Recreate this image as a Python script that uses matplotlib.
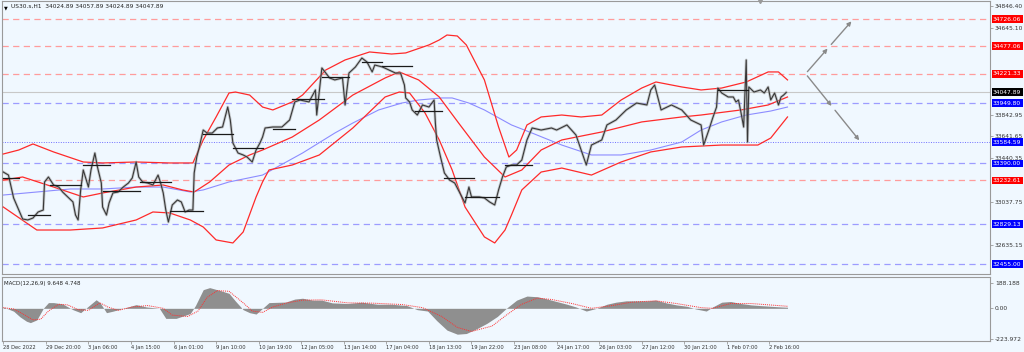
import matplotlib
matplotlib.use("Agg")
import matplotlib.pyplot as plt
import matplotlib.transforms as mtransforms

# ---------------- data ----------------
price_bar = [0, 4, 8, 12, 15, 19, 23, 27, 31, 32, 35, 39, 43, 46, 50, 54, 56, 58, 60, 62, 66, 68, 71, 73, 76, 77,
             80, 82, 85, 89, 93, 97, 100, 103, 105, 108, 112, 116, 120, 122, 124, 126, 128, 131, 135, 138, 141,
             144, 147, 148, 150, 152, 155, 158, 162, 166, 170, 174, 176, 178, 182, 186, 189, 193, 196, 199, 201,
             203, 209, 216, 222, 226, 230, 237, 242, 243, 246, 247, 253, 257, 263, 265, 268, 273, 278, 282, 286,
             288, 294, 299, 304, 308, 311, 312, 315, 317, 321, 325, 330, 334, 335, 336, 339, 342, 346, 350, 354,
             358, 361, 363, 369, 373, 377, 381, 384, 387, 390, 394, 398, 402, 406, 410, 417, 425, 429, 437, 444,
             448, 452, 456, 464, 468, 475, 483, 491, 499, 502, 505, 510, 518, 526, 533, 541, 543, 547, 550, 553,
             554, 557, 562, 566, 568, 570, 572, 574, 576, 577, 578, 582, 587, 590, 593, 595, 598, 601, 603, 605, 607]
price_close = [33311, 33283, 33071, 32959, 32876, 32867, 32885, 32941, 32959, 33219, 33265, 33191, 33172, 33126,
               33080, 33034, 32913, 32867, 33145, 33330, 33172, 33330, 33487, 33358, 33209, 32987, 32913, 33024,
               33117, 33126, 33172, 33209, 33256, 33404, 33265, 33219, 33209, 33191, 33283, 33209, 33117, 32959,
               32848, 33006, 33052, 33034, 32941, 32959, 32959, 33302, 33450, 33543, 33700, 33672, 33672, 33719,
               33728, 33913, 33793, 33580, 33487, 33469, 33450, 33404, 33515, 33580, 33635, 33719, 33728, 33728,
               33793, 33960, 33978, 33960, 34071, 33839, 34164, 34275, 34182, 34164, 34182, 33932, 34228, 34284,
               34367, 34330, 34238, 34302, 34284, 34256, 34228, 34228, 34117, 33997, 33960, 33886, 33839, 33932,
               33913, 33978, 33765, 33608, 33450, 33302, 33237, 33209, 33117, 33024, 33172, 33080, 33080, 33071,
               33034, 33006, 33145, 33265, 33358, 33376, 33376, 33422, 33608, 33719, 33700, 33719, 33700, 33747,
               33654, 33515, 33376, 33561, 33608, 33747, 33793, 33886, 33950, 33932, 34071, 34117, 33886, 33932,
               33886, 33793, 33747, 33561, 33700, 33811, 33913, 34089, 34043, 34006, 34006, 33960, 33978, 33858,
               33728, 34349, 33589, 34099, 34052, 34071, 34043, 34099, 33978, 34043, 33932, 34006, 34024, 34048]

seg_start = [0, 19, 36, 62, 77, 106, 129, 155, 178, 209, 224, 247, 278, 294, 319, 342, 358, 389, 554]
seg_end = [12, 36, 60, 83, 106, 130, 155, 178, 201, 226, 249, 268, 294, 317, 340, 365, 384, 410, 577]
seg_price = [33256, 32913, 33191, 33376, 33135, 33219, 32950, 33663, 33534, 33710, 33987, 34191, 34330, 34293,
             33876, 33256, 33080, 33376, 34071]

upper_bar = [0, 12, 23, 39, 62, 77, 103, 129, 147, 155, 165, 175, 180, 191, 201, 209, 224, 232, 250, 265, 284,
             301, 312, 330, 338, 344, 352, 359, 373, 384, 392, 398, 406, 417, 433, 448, 464, 479, 495, 506, 526,
             541, 557, 576, 593, 601, 608]
upper_val = [33478, 33515, 33571, 33497, 33404, 33395, 33404, 33395, 33395, 33608, 33821, 34043, 34052, 34024,
             33913, 33886, 33960, 34024, 34256, 34349, 34423, 34404, 34414, 34488, 34534, 34580, 34571, 34488,
             34164, 33728, 33450, 33515, 33747, 33821, 33839, 33821, 33839, 33978, 34089, 34145, 34099, 34071,
             34089, 34145, 34238, 34238, 34164]
mid_bar = [0, 15, 39, 62, 77, 103, 124, 139, 148, 160, 175, 191, 201, 224, 245, 271, 296, 307, 322, 338, 353,
           373, 389, 402, 417, 433, 464, 495, 526, 541, 572, 593, 608]
mid_val = [33237, 33265, 33172, 33080, 33117, 33172, 33191, 33145, 33126, 33219, 33376, 33469, 33515, 33635,
           33793, 34024, 34182, 34238, 34164, 34006, 33765, 33450, 33265, 33330, 33515, 33608, 33682, 33775,
           33821, 33839, 33886, 33932, 34006]
lower_bar = [0, 26, 52, 77, 103, 116, 129, 145, 155, 165, 178, 186, 196, 201, 206, 224, 245, 271, 296, 307, 315,
             327, 338, 348, 358, 373, 381, 389, 394, 402, 417, 433, 456, 479, 502, 526, 557, 585, 595, 608]
lower_val = [32987, 32774, 32774, 32793, 32867, 32941, 32932, 32867, 32802, 32682, 32654, 32756, 33080, 33219,
             33330, 33376, 33469, 33719, 34006, 34052, 34043, 33858, 33608, 33330, 32987, 32710, 32654, 32774,
             32913, 33145, 33311, 33348, 33283, 33404, 33497, 33543, 33561, 33561, 33626, 33821]
ma_bar = [0, 26, 52, 77, 103, 124, 145, 155, 175, 201, 232, 257, 271, 291, 309, 322, 340, 348, 361, 373, 394,
          410, 433, 456, 479, 502, 526, 541, 557, 576, 595, 608]
ma_val = [33098, 33126, 33154, 33154, 33172, 33172, 33126, 33145, 33219, 33283, 33487, 33672, 33765, 33886,
          33950, 33978, 33997, 33997, 33950, 33886, 33747, 33672, 33561, 33469, 33469, 33515, 33589, 33700,
          33775, 33839, 33876, 33913]

red_levels = [34726.06, 34477.06, 34221.33, 33232.61]
blue_dash_levels = [33949.80, 33390.00, 32829.13, 32455.00]
blue_dot_levels = [33584.59]
current_price = 34047.89
price_ticks = [34846.40, 34645.10, 33842.95, 33641.65, 33440.35, 33037.75, 32635.15]

macd_bar = [0, 8, 13, 18, 21, 26, 31, 35, 39, 46, 54, 60, 64, 72, 75, 80, 85, 93, 103, 111, 121, 126, 134, 145,
            149, 155, 160, 168, 175, 180, 186, 191, 196, 201, 206, 219, 226, 232, 240, 247, 255, 267, 278, 290,
            301, 313, 321, 329, 336, 344, 352, 359, 367, 375, 383, 390, 398, 406, 414, 421, 429, 437, 444, 452,
            460, 468, 475, 483, 491, 499, 506, 514, 522, 530, 537, 545, 550, 557, 564, 572, 580, 587, 595, 603, 608]
macd_hist = [10, -21, -63, -95, -105, -85, 0, 42, 42, 32, -10, -32, 0, 63, 42, -32, -21, 0, 27, 10, 0, -74, -74,
             -38, 21, 137, 152, 131, 110, 53, -10, -32, -42, 0, 42, 46, 68, 74, 60, 60, 40, 35, 45, 30, 30, 20,
             -10, -20, -90, -160, -190, -185, -150, -110, -60, 0, 60, 90, 85, 70, 50, 30, 10, -20, 0, 30, 45, 55,
             55, 55, 60, 40, 25, 15, -5, -20, 10, 45, 50, 35, 25, 20, 15, 10, 8]
signal_bar = [0, 8, 15, 23, 29, 35, 43, 50, 58, 66, 75, 81, 89, 100, 112, 124, 131, 143, 151, 158, 166, 175, 186,
              193, 201, 209, 220, 232, 247, 267, 286, 309, 325, 340, 352, 363, 379, 390, 402, 414, 425, 441, 456,
              472, 487, 506, 522, 541, 550, 564, 580, 608]
signal_val = [5, -5, -40, -85, -80, -20, 30, 25, -10, -15, 40, 10, -15, 10, 20, 0, -50, -60, -20, 80, 130, 125,
              40, -20, -30, 10, 40, 60, 62, 40, 38, 28, 5, -60, -140, -170, -130, -50, 30, 75, 65, 35, 0, 20, 45,
              55, 35, 5, 0, 35, 35, 15]
macd_ticks = [188.188, 0.0, -223.972]
macd_tick_labels = ["188.188", "0.00", "-223.972"]

x_tick_bars = [0, 33, 66, 99, 132, 165, 198, 231, 264, 297, 330, 363, 396, 429, 462, 495, 528, 561, 594]
x_tick_labels = ["28 Dec 2022", "29 Dec 20:00", "3 Jan 06:00", "4 Jan 15:00", "6 Jan 01:00", "9 Jan 10:00",
                 "10 Jan 19:00", "12 Jan 05:00", "13 Jan 14:00", "17 Jan 04:00", "18 Jan 13:00", "19 Jan 22:00",
                 "23 Jan 08:00", "24 Jan 17:00", "26 Jan 03:00", "27 Jan 12:00", "30 Jan 21:00", "1 Feb 07:00",
                 "2 Feb 16:00"]

arrow_start = (622, 34221.33)
arrow_up_end = (659, 34726.06)
arrow_down_end = (665, 33584.59)

header = "US30.s,H1  34024.89 34057.89 34024.89 34047.89"
macd_title = "MACD(12,26,9) 9.648 4.748"

# ---------------- drawing ----------------
BG = "#f0f8ff"
W, H = 1024, 352
fig = plt.figure(figsize=(W / 100, H / 100), dpi=100, facecolor=BG)
ax = fig.add_axes([2 / W, 1 - 274 / H, 988 / W, 273 / H], facecolor=BG)
ax2 = fig.add_axes([2 / W, 1 - 341 / H, 988 / W, 64 / H], facecolor=BG, sharex=ax)

for a in (ax, ax2):
    for s in a.spines.values():
        s.set_color("#9a9a9a")
        s.set_linewidth(0.8)

ax.set_xlim(-1, 765)
ax.set_ylim(32366.6, 34895.0)

# level lines
for lv in red_levels:
    ax.axhline(lv, color="#ff9c9c", lw=0.9, ls=(0, (5, 3.5)), zorder=1)
for lv in blue_dash_levels:
    ax.axhline(lv, color="#9c9cff", lw=0.9, ls=(0, (5, 3.5)), zorder=1)
for lv in blue_dot_levels:
    ax.axhline(lv, color="#7070ff", lw=0.7, ls=(0, (1, 1.5)), zorder=1)
ax.axhline(current_price, color="#c8c8c8", lw=0.8, zorder=1)

# indicators
ax.plot(ma_bar, ma_val, color="#8c8cff", lw=0.8, zorder=2)
ax.plot(upper_bar, upper_val, color="#ff2a2a", lw=0.9, zorder=3)
ax.plot(mid_bar, mid_val, color="#ff2a2a", lw=0.9, zorder=3)
ax.plot(lower_bar, lower_val, color="#ff2a2a", lw=0.9, zorder=3)

# price
ax.plot(price_bar, price_close, color="#a0a0a0", lw=2.0, alpha=0.55, zorder=4)
ax.plot(price_bar, price_close, color="#383838", lw=0.8, zorder=5)
for s0, s1, p in zip(seg_start, seg_end, seg_price):
    ax.plot([s0, s1], [p, p], color="#1a1a1a", lw=0.9, zorder=5)

# arrows
akw = dict(arrowstyle="-|>", color="#8a8a8a", lw=1.0, mutation_scale=6)
for end in (arrow_up_end, arrow_down_end):
    mid = ((arrow_start[0] + end[0]) / 2, (arrow_start[1] + end[1]) / 2)
    ax.annotate("", xy=mid, xytext=arrow_start, arrowprops=akw, zorder=6)
    ax.annotate("", xy=end, xytext=mid, arrowprops=akw, zorder=6)

# right price axis
ax.yaxis.tick_right()
ax.set_yticks(price_ticks)
ax.set_yticklabels([f"{v:.2f}" for v in price_ticks])
ax.tick_params(axis="y", length=2, width=0.6, colors="#9a9a9a", labelcolor="#333333", labelsize=4.3, pad=1.5)
ax.tick_params(axis="x", bottom=False, labelbottom=False)

trans = mtransforms.blended_transform_factory(ax.transAxes, ax.transData)
def tag(val, fc):
    ax.text(1.0 + 3 / 988, val, f"{val:.2f}", transform=trans, fontsize=4.3, color="white",
            va="center", ha="left", clip_on=False, zorder=10,
            bbox=dict(boxstyle="square,pad=0.25", fc=fc, ec="none"))
for lv in red_levels:
    tag(lv, "#ff0000")
for lv in blue_dash_levels + blue_dot_levels:
    tag(lv, "#0000ff")
tag(current_price, "#000000")

# header
ax.text(2 / 988, 0.985, "\u25bc", transform=ax.transAxes, fontsize=3.5, color="black", va="top", ha="left")
ax.text(9 / 988, 0.99, header, transform=ax.transAxes, fontsize=4.2, color="#222222", va="top", ha="left")
ax.plot([587], [34895.0], marker="v", ms=3, color="#9a9a9a", clip_on=False, zorder=7)

# MACD panel
ax2.set_ylim(-240, 230)
ax2.fill_between(macd_bar, 0, macd_hist, color="#8f8f8f", lw=0, zorder=2)
ax2.plot(signal_bar, signal_val, color="#ff3030", lw=0.7, ls=(0, (1, 1)), zorder=3)
ax2.yaxis.tick_right()
ax2.set_yticks(macd_ticks)
ax2.set_yticklabels(macd_tick_labels)
ax2.tick_params(axis="y", length=2, width=0.6, colors="#9a9a9a", labelcolor="#333333", labelsize=4.3, pad=1.5)
ax2.text(2 / 988, 0.93, macd_title, transform=ax2.transAxes, fontsize=4.0, color="#222222", va="top", ha="left")

ax2.set_xticks(x_tick_bars)
ax2.set_xticklabels(x_tick_labels, ha="left")
ax2.tick_params(axis="x", length=2, width=0.6, colors="#9a9a9a", labelcolor="#333333", labelsize=3.7, pad=0.8)

fig.savefig("out.png", dpi=100, facecolor=BG)
